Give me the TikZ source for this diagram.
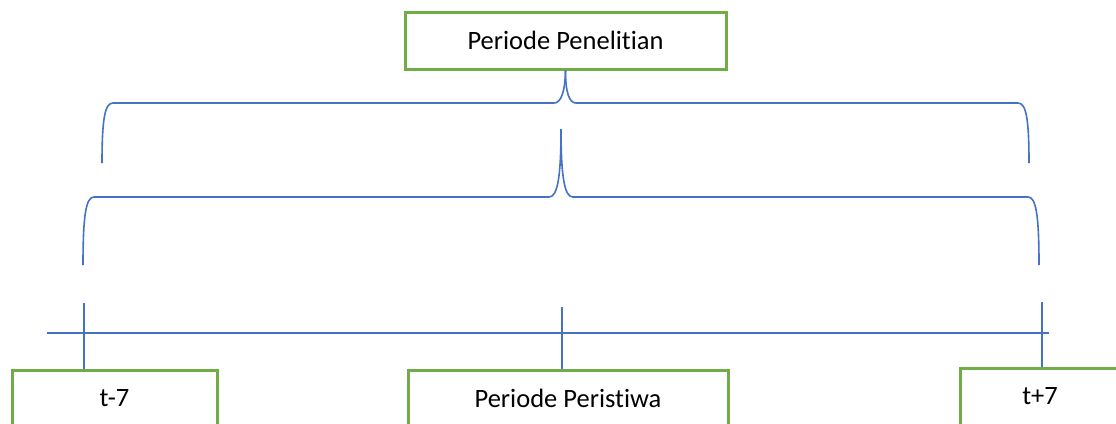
\documentclass[tikz,border=0pt]{standalone}
\usepackage{fontspec}
\setmainfont[RawFeature={-liga;-dlig;-clig}]{Carlito}
\definecolor{boxgreen}{HTML}{70AD47}
\definecolor{lineblue}{HTML}{4472C4}
\begin{document}
\begin{tikzpicture}[x=1pt,y=-1pt,
  gbox/.style={draw=boxgreen,line width=3pt,fill=white,inner sep=0pt,minimum height=57pt,
    font=\fontsize{26.5}{30}\selectfont},
  bline/.style={draw=lineblue,line width=1.6pt}]
\clip (0,0) rectangle (1116,423);
\fill[white] (0,0) rectangle (1116,423);
% top box
\node[gbox,minimum width=321pt] (top) at (565.5,40.5) {Periode Penelitian};
% bottom boxes
\node[gbox,minimum width=205pt] (tm7) at (114.5,398.5) {t-7};
\node[gbox,minimum width=320pt] (mid) at (568,398.5) {Periode Peristiwa};
\node[gbox,minimum width=160pt] (tp7) at (1040,396.5) {t+7};
% upper brace
\coordinate (ub-l) at (102,163);
\coordinate (ub-r) at (1029,163);
\draw[bline] (ub-l) .. controls (102,118) and (105,103) .. (113,103) -- (554,103)
  .. controls (561,103) and (565,92) .. (top.south);
\draw[bline] (ub-r) .. controls (1029,118) and (1026,103) .. (1018,103) -- (576,103)
  .. controls (569,103) and (565.5,92) .. (top.south);
% lower brace
\coordinate (lb-l) at (83,265);
\coordinate (lb-r) at (1039,265);
\coordinate (lb-p) at (561,129);
\draw[bline] (lb-l) .. controls (83,215) and (86,197) .. (94,197) -- (549,197)
  .. controls (557,197) and (561,180) .. (lb-p);
\draw[bline] (lb-r) .. controls (1039,215) and (1036,197) .. (1028,197) -- (573,197)
  .. controls (565,197) and (561,180) .. (lb-p);
% timeline
\coordinate (tl-l) at (47,333);
\coordinate (tl-r) at (1049,333);
\draw[bline,line width=1.2pt] (tl-l) -- (tl-r);
\coordinate (tk1) at (84,303);
\coordinate (tk2) at (562,307);
\coordinate (tk3) at (1042,302);
\draw[bline,line width=1.2pt] (tk1) -- (tk1 |- tm7.north);
\draw[bline,line width=1.2pt] (tk2) -- (tk2 |- mid.north);
\draw[bline,line width=1.2pt] (tk3) -- (tk3 |- tp7.north);
\end{tikzpicture}
\end{document}
